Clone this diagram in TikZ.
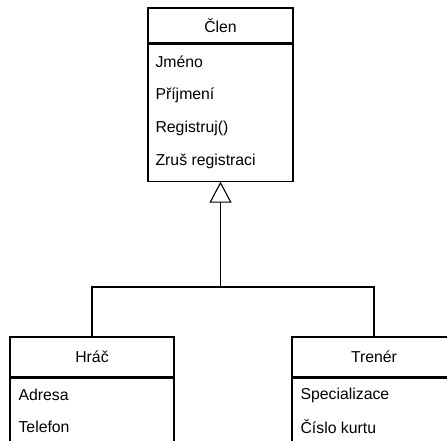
\documentclass[tikz,border=0pt]{standalone}
\usepackage{fontspec}
\setmainfont{Liberation Sans}
\usetikzlibrary{arrows.meta}

\tikzset{
  classhead/.style={draw, minimum width=#1, minimum height=35pt, inner sep=0pt},
  classbody/.style={draw, minimum width=#1, anchor=north, inner sep=0pt},
  attr/.style={anchor=west, inner sep=0pt},
  inherit/.style={-{Triangle[open, length=21pt, width=22pt]}}
}

\begin{document}
\begin{tikzpicture}[x=1pt, y=-1pt, line width=1.1pt,
    font=\fontsize{15.8}{18}\selectfont]
    \useasboundingbox (0,0) rectangle (447,441);
    \clip (0,0) rectangle (447,441);

    % Parent class with its attributes and methods
    \node[classhead=145pt] (clen) at (220.5,25.5) {Člen};
    \node[classbody=145pt, minimum height=137pt] (clenbody) at (clen.south) {};
    \foreach \y/\t [count=\i] in {
        62/Jméno, 95/Příjmení, 128/Registruj(), 161/Zruš registraci
    }
    \node[attr] (clen\i) at (155,\y) {\t};

    % Child class on the left
    \node[classhead=164pt, minimum height=40pt] (hrac) at (92,357) {Hráč};
    \node[classbody=164pt, minimum height=100pt] (hracbody) at (hrac.south) {};
    \foreach \y/\t [count=\i] in {395/Adresa, 427/Telefon}
    \node[attr] (hrac\i) at (18,\y) {\t};

    % Child class on the right
    \node[classhead=164pt, minimum height=40pt] (trener) at (374,357) {Trenér};
    \node[classbody=164pt, minimum height=100pt] (trenerbody) at (trener.south) {};
    \foreach \y/\t [count=\i] in {395/Specializace, 427/Číslo kurtu}
    \node[attr] (trener\i) at (300,\y) {\t};

    % Generalization arrow joining both children
    \coordinate (join) at (220.5,287);
    \draw[inherit] (hrac.north) |- (join) -- (clenbody.south);
    \draw (trener.north) |- (join);
\end{tikzpicture}
\end{document}
